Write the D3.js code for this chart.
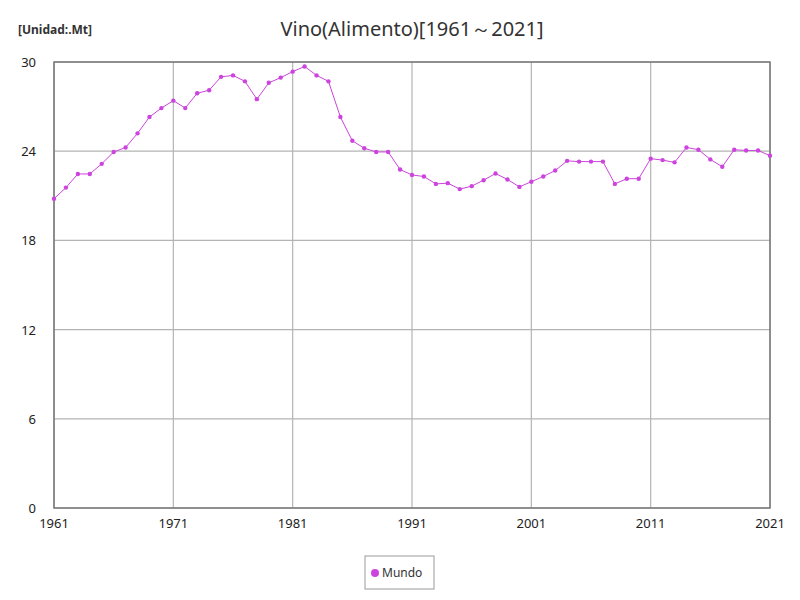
<!DOCTYPE html>
<html><head><meta charset="utf-8">
<script src="https://d3js.org/d3.v7.min.js"></script>
<style>body{margin:0;background:#fff;font-family:"Noto Sans",sans-serif;}</style>
</head><body>
<svg id="chart" width="800" height="600"></svg>
<script>
var years = d3.range(1961, 2022);
var values = [20.8, 21.55, 22.47, 22.47, 23.15, 23.95, 24.25, 25.2, 26.3, 26.9,
  27.4, 26.9, 27.9, 28.1, 29.0, 29.1, 28.7, 27.5, 28.6, 28.95,
  29.35, 29.7, 29.1, 28.7, 26.3, 24.7, 24.2, 23.95, 23.95, 22.77,
  22.4, 22.3, 21.8, 21.85, 21.45, 21.65, 22.05, 22.5, 22.1, 21.6,
  21.95, 22.3, 22.7, 23.35, 23.3, 23.3, 23.3, 21.8, 22.15, 22.15,
  23.5, 23.4, 23.25, 24.25, 24.1, 23.45, 22.95, 24.1, 24.05, 24.05, 23.7];
var xTicks = [1961, 1971, 1981, 1991, 2001, 2011, 2021];
var yTicks = [0, 6, 12, 18, 24, 30];
var color = "#cc44dd";

var svg = d3.select("#chart");
var m = {l: 54, r: 30, t: 62, b: 92};
var w = 800 - m.l - m.r, h = 600 - m.t - m.b;
var x = d3.scaleLinear().domain([1961, 2021]).range([m.l, m.l + w]);
var y = d3.scaleLinear().domain([0, 30]).range([m.t + h, m.t]);

// grid
svg.append("g").selectAll("line").data(xTicks).enter().append("line")
  .attr("x1", x).attr("x2", x).attr("y1", m.t).attr("y2", m.t + h)
  .attr("stroke", "#b4b4b4").attr("stroke-width", 1.2);
svg.append("g").selectAll("line").data(yTicks).enter().append("line")
  .attr("y1", y).attr("y2", y).attr("x1", m.l).attr("x2", m.l + w)
  .attr("stroke", "#b4b4b4").attr("stroke-width", 1.2);
svg.append("rect").attr("x", m.l).attr("y", m.t).attr("width", w).attr("height", h)
  .attr("fill", "none").attr("stroke", "#777").attr("stroke-width", 1.5);

// tick labels
svg.append("g").selectAll("text").data(xTicks).enter().append("text")
  .attr("x", x).attr("y", m.t + h + 20).attr("text-anchor", "middle")
  .attr("font-size", 13).attr("fill", "#222").text(function (d) { return d; });
svg.append("g").selectAll("text").data(yTicks).enter().append("text")
  .attr("x", m.l - 18).attr("y", function (d) { return y(d) + 5; }).attr("text-anchor", "end")
  .attr("font-size", 13).attr("fill", "#222").text(function (d) { return d; });

svg.append("text").attr("x", 412).attr("y", 36).attr("text-anchor", "middle")
  .attr("font-size", 20).attr("fill", "#333").text("Vino(Alimento)[1961～2021]");
svg.append("text").attr("x", 18).attr("y", 34).attr("font-size", 12)
  .attr("font-weight", "bold").attr("fill", "#333").text("[Unidad:.Mt]");

var line = d3.line().x(function (d, i) { return x(years[i]); }).y(function (d) { return y(d); });
svg.append("path").datum(values).attr("d", line).attr("fill", "none")
  .attr("stroke", color).attr("stroke-width", 1);
svg.append("g").selectAll("circle").data(values).enter().append("circle")
  .attr("cx", function (d, i) { return x(years[i]); }).attr("cy", function (d) { return y(d); })
  .attr("r", 2.2).attr("fill", color);

// legend
svg.append("rect").attr("x", 365).attr("y", 556).attr("width", 69).attr("height", 33)
  .attr("fill", "#fff").attr("stroke", "#999");
svg.append("circle").attr("cx", 375).attr("cy", 573).attr("r", 4).attr("fill", color);
svg.append("text").attr("x", 382).attr("y", 577).attr("font-size", 12).attr("fill", "#333").text("Mundo");
</script>
</body></html>
